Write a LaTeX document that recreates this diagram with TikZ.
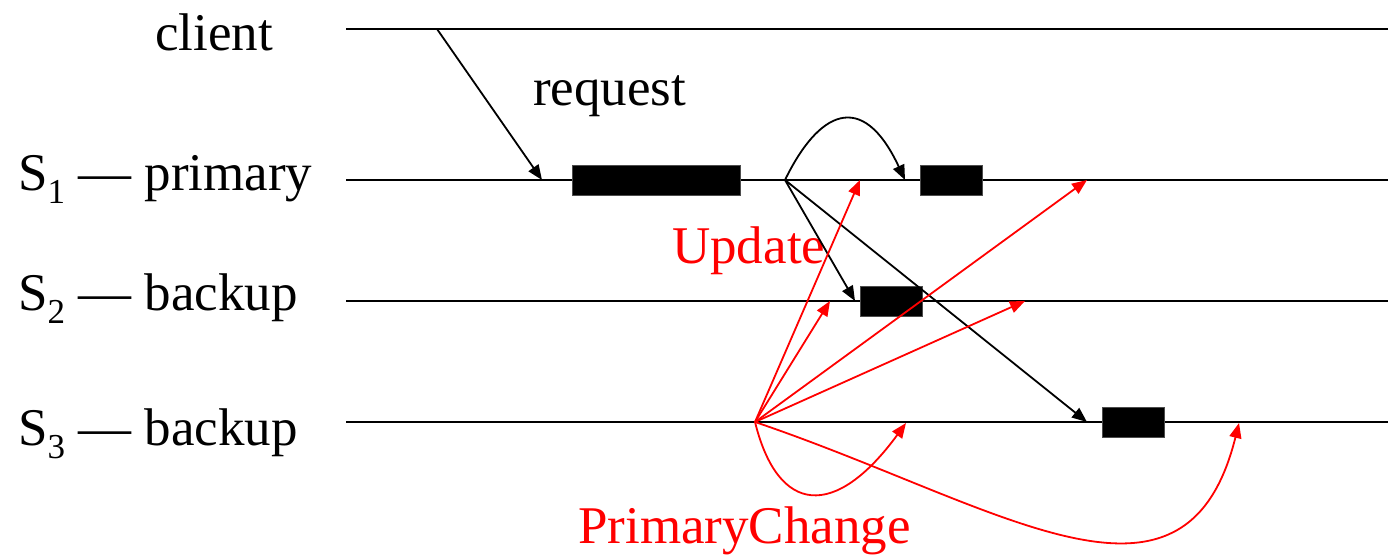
\documentclass[tikz,border=0pt]{standalone}
\usepackage{fontspec}
\setmainfont{Liberation Serif}
\usetikzlibrary{arrows.meta}
\newcommand{\subnum}[1]{\raisebox{-13pt}{\fontsize{35}{35}\selectfont #1}}
\tikzset{
  lbl/.style={anchor=base west, inner sep=0pt, font=\fontsize{53}{60}\selectfont},
  timeline/.style={line width=2pt, black},
  blk/.style={fill=black, draw=black!70, line width=0.6pt, minimum width=#1, minimum height=30pt, inner sep=0pt},
  blk/.default=62pt,
  msg/.style={line width=1.8pt, -{Triangle[length=15pt,width=12pt]}},
  redmsg/.style={msg, red},
}
\begin{document}
\begin{tikzpicture}[x=1pt,y=-1pt]
\useasboundingbox (0,0) rectangle (1388,554);

% timelines
\coordinate (c0) at (346,29);   \coordinate (c1) at (1388,29);
\coordinate (p0) at (346,180);  \coordinate (p1) at (1388,180);
\coordinate (q0) at (346,301);  \coordinate (q1) at (1388,301);
\coordinate (r0) at (346,422);  \coordinate (r1) at (1388,422);
\draw[timeline] (c0) -- (c1);
\draw[timeline] (p0) -- (p1);
\draw[timeline] (q0) -- (q1);
\draw[timeline] (r0) -- (r1);

% labels
\node[lbl] (client) at (155,50) {client};
\node[lbl] (s1) at (18,190) {S\subnum{1} — primary};
\node[lbl] (s2) at (18,310) {S\subnum{2} — backup};
\node[lbl] (s3) at (18,445) {S\subnum{3} — backup};
\node[lbl] (req) at (533,105) {request};
\node[lbl, text=red] (upd) at (672,263) {Update};
\node[lbl, text=red] (pc) at (578,543) {PrimaryChange};

% processing blocks
\node[blk=168pt] (b1) at (656,180) {};
\node[blk] (b2) at (951,180) {};
\node[blk] (b3) at (891,301) {};
\node[blk] (b4) at (1133,422) {};

% event points
\coordinate (send) at (437,29);
\coordinate (recv) at (542,180);
\coordinate (ps) at (785,180);
\coordinate (pa) at (905,180);
\coordinate (qa) at (855,301);
\coordinate (ra) at (1087,422);
\coordinate (rs) at (755,422);
\coordinate (u1) at (860,180);
\coordinate (u2) at (1087,180);
\coordinate (u3) at (830,301);
\coordinate (u4) at (1025,301);
\coordinate (u5) at (906,423);
\coordinate (u6) at (1239,423);

% request and update propagation
\draw[msg] (send) -- (recv);
\draw[msg] (ps) .. controls (818,112) and (862,88) .. (pa);
\draw[msg] (ps) -- (qa);
\draw[msg] (ps) -- (ra);

% primary change notifications
\draw[redmsg] (rs) -- (u1);
\draw[redmsg] (rs) -- (u3);
\draw[redmsg] (rs) -- (u2);
\draw[redmsg] (rs) -- (u4);
\draw[redmsg] (rs) .. controls (778,515) and (835,520) .. (u5);
\draw[redmsg] (rs) .. controls (1000,505) and (1185,640) .. (u6);
\end{tikzpicture}
\end{document}
